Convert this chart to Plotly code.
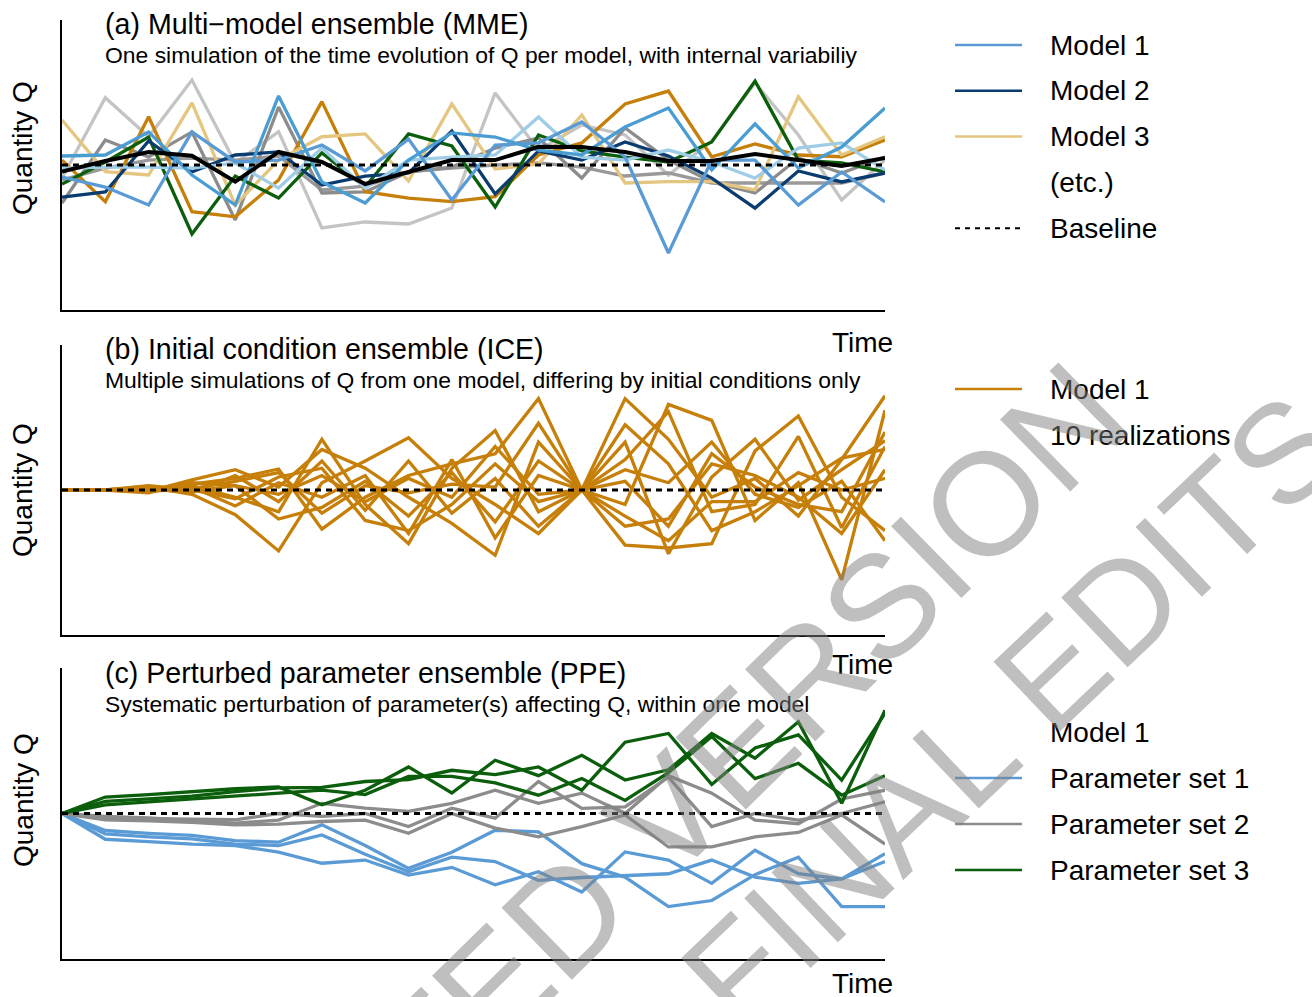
import plotly.graph_objects as go

W, H = 1312, 997
FONT = "Liberation Sans, Arial, Helvetica, sans-serif"

# ---------------- data ----------------
time_steps = list(range(20))

# (a) Multi-model ensemble: one simulation per model
mme_model1 = [-0.83, -1.52, -2.76, 2.28, 0.21, 0.34, 1.38, -0.41, 1.79, -2.41, 1.38, 1.52, 2.97, 0.55, -6.07, 0.34, 0.34, -2.76, -0.48, -2.55]
mme_model2 = [-2.21, -1.86, 1.66, -0.48, 0.69, 0.90, -1.38, -0.76, -0.55, 2.34, -2.00, 0.97, 0.34, 1.59, 0.62, -0.90, -2.97, -0.41, -1.17, -0.55]
mme_model3 = [3.10, -0.46, -0.69, 4.28, -2.76, 0.34, 1.95, 2.14, -1.10, 4.21, -0.28, 0.07, 3.45, -1.24, -1.15, -1.15, -1.72, 4.71, 0.69, 1.95]
mme_model4 = [0.34, -2.53, 3.33, -3.22, -3.57, -1.03, 4.37, -1.84, -2.28, -2.53, -2.19, 0.69, 1.52, 4.21, 5.10, 0.57, 1.45, 0.69, 0.57, 1.72]
mme_model5 = [-1.31, 0.21, 1.93, -4.76, -0.76, -2.28, 0.83, -1.52, 2.14, 1.31, -2.90, 2.07, 0.97, 0.55, 0.21, 1.59, 5.79, 0.34, 0.14, -0.48]
mme_model6 = [-2.62, 1.72, 0.55, 2.28, -3.79, 4.00, -1.93, -1.86, -0.48, -0.14, 1.17, 1.86, -0.90, 2.55, 0.34, -1.17, -1.93, 0.48, -0.55, 0.55]
mme_model7 = [-1.03, -0.21, 0.34, 0.48, 0.34, 0.62, -1.72, -1.45, -0.48, -0.21, 0.00, 0.14, -0.14, -0.76, -0.55, -1.24, -1.24, -1.24, -1.24, -0.55]
mme_model8 = [-0.90, 4.64, 1.95, 5.86, 0.14, 2.30, -4.34, -3.93, -4.07, -2.97, 4.97, 1.03, 2.76, 2.07, -0.69, 1.66, 5.66, 2.07, -2.41, 0.34]
mme_model9 = [0.62, 0.69, 2.28, -0.69, -2.76, 4.76, -1.17, -2.62, 0.34, 2.21, 1.93, 1.03, 0.69, 2.62, 3.93, -0.34, 2.83, -0.21, 1.24, 3.93]
mme_model10 = [-0.21, -0.14, -0.14, -0.21, 0.14, -1.59, 1.17, -1.59, 0.34, 0.55, 0.69, 3.31, 0.55, 0.34, 1.03, 0.21, -0.90, 1.17, 1.52, -0.34]
mme_mean = [-0.46, 0.28, 0.90, 0.64, -1.15, 0.90, 0.21, -1.31, -0.48, 0.34, 0.34, 1.26, 1.24, 0.90, 0.28, 0.28, 0.76, 0.34, -0.07, 0.48]

# (b) Initial condition ensemble: 10 realizations of Model 1
ice_r1 = [0, 0, 0.1, 0.3, -0.5, -1.5, 3.5, -1.0, -3.7, 1.5, 4.1, -1.5, 0, 6.3, 3.5, -0.5, 0.8, -1.8, 2.1, 6.5]
ice_r2 = [0, 0, -0.1, 0.7, 1.4, 0.2, 2.8, 1.5, -0.5, -2.3, -4.5, 3.3, 0, -1.0, 5.9, 4.8, -2.1, 0.5, -6.2, 5.5]
ice_r3 = [0, 0, 0.2, -0.3, -1.7, -4.2, 0.5, 2.0, 3.6, 0.8, -1.0, -3.0, 0, 3.3, -4.4, 0.9, 3.5, -0.7, 1.4, 3.4]
ice_r4 = [0, 0, 0.0, 0.4, 0.8, 1.45, -2.7, -0.5, 1.0, 1.8, 2.5, 6.3, 0, -3.8, -4.0, -3.7, 2.7, 5.1, -0.5, -2.8]
ice_r5 = [0, 0, 0.3, 0.0, -0.6, 0.9, 1.5, -2.1, -2.8, -1.0, 1.8, -0.8, 0, 2.1, 5.4, -1.5, -1.0, 3.7, -2.6, 3.0]
ice_r6 = [0, 0, -0.2, 0.5, 0.3, -2.0, -1.2, 0.6, -1.8, 1.2, -2.2, 2.0, 0, 1.4, 0.5, 3.3, -0.3, -1.2, 0.6, -3.5]
ice_r7 = [0, 0, 0.1, -0.2, 1.0, -0.8, 2.0, -1.4, 2.0, -1.6, 0.8, -2.5, 0, -2.5, -2.0, 1.8, 1.0, -0.5, -3.0, 1.4]
ice_r8 = [0, 0, 0.0, 0.2, -1.1, 0.5, -0.5, 1.0, -3.0, 2.1, -3.3, 1.0, 0, 4.5, 1.8, -2.8, -1.5, 0.3, 2.2, 2.8]
ice_r9 = [0, 0, 0.2, -0.1, 0.3, -0.3, 1.0, -0.8, 0.8, -0.5, 3.0, -0.3, 0, 0.6, -2.5, 2.5, 0.2, -1.0, -1.5, 4.0]
ice_r10 = [0, 0, -0.1, 0.1, 0.6, 1.2, -1.6, 0.3, -0.2, 0.4, 0.2, 4.6, 0, -1.8, -3.5, -0.8, -0.8, 1.2, 0.0, 0.8]

# (c) Perturbed parameter ensemble
ppe_set1_a = [0, -1.17, -1.36, -1.5, -1.86, -1.97, -0.78, -2.2, -3.77, -2.66, -1.15, -1.26, -3.45, -4.37, -6.4, -5.98, -4.2, -3.0, -6.4, -6.4]
ppe_set1_b = [0, -1.4, -1.6, -1.75, -2.1, -2.2, -1.47, -2.8, -4.0, -3.0, -3.3, -4.6, -4.4, -4.25, -4.14, -3.2, -4.37, -4.8, -4.5, -3.3]
ppe_set1_c = [0, -1.77, -1.93, -2.1, -2.2, -2.66, -3.42, -3.2, -4.23, -3.7, -4.9, -4.0, -5.4, -2.64, -3.2, -4.8, -2.53, -4.14, -4.5, -2.76]
ppe_set2_a = [0, -0.2, -0.3, -0.5, -0.66, -0.45, 0.7, 0.37, 0.15, 0.7, 1.6, 0.7, 1.4, 0.0, 2.6, 1.4, -0.45, -0.7, 1.0, 1.6]
ppe_set2_b = [0, -0.3, -0.35, -0.4, -0.43, 0.0, -0.2, 0.0, -0.9, 0.37, -0.32, 2.2, 0.35, 0.45, 2.5, -0.9, 0.0, -0.45, 0.0, 0.8]
ppe_set2_c = [0, -0.43, -0.5, -0.6, -0.78, -0.73, -0.55, -0.45, -1.36, 0.0, -1.0, -1.6, -0.9, -0.1, -2.3, -2.3, -1.6, -1.3, -0.1, -2.1]
ppe_set3_a = [0, 1.13, 1.3, 1.5, 1.7, 1.83, 0.6, 1.6, 3.2, 1.41, 3.66, 2.6, 4.0, 2.3, 3.0, 5.5, 3.8, 6.3, 0.7, 7.1]
ppe_set3_b = [0, 0.83, 1.0, 1.2, 1.5, 1.76, 1.8, 2.2, 2.33, 2.97, 2.67, 3.2, 1.6, 4.9, 5.5, 2.0, 4.5, 5.4, 2.3, 6.9]
ppe_set3_c = [0, 0.6, 0.8, 1.0, 1.2, 1.41, 1.6, 1.3, 2.55, 2.55, 2.1, 1.26, 2.4, 0.9, 2.8, 5.3, 2.4, 3.45, 1.26, 2.6]

baseline = [0] * 20

# ---------------- styles ----------------
C_M1 = "#5B9BD5"
C_M2 = "#0B3C70"
C_M3 = "#E5C680"
C_ORANGE = "#C67F08"
C_GREEN = "#0B5E0B"
C_GRAY = "#8C8C8C"
C_GRAY2 = "#999999"
C_LGRAY = "#C4C4C4"
C_BLUE2 = "#4A9DD2"
C_PALE = "#9FCDE6"

mme_series = [
    (mme_model8, C_LGRAY), (mme_model7, C_GRAY2), (mme_model6, C_GRAY),
    (mme_model4, C_ORANGE), (mme_model3, C_M3), (mme_model5, C_GREEN),
    (mme_model2, C_M2), (mme_model10, C_PALE), (mme_model1, C_M1),
    (mme_model9, C_BLUE2),
]
ice_series = [ice_r1, ice_r2, ice_r3, ice_r4, ice_r5, ice_r6, ice_r7, ice_r8, ice_r9, ice_r10]
ppe_series = [
    (ppe_set1_a, C_M1), (ppe_set1_b, C_M1), (ppe_set1_c, C_M1),
    (ppe_set2_a, C_GRAY), (ppe_set2_b, C_GRAY), (ppe_set2_c, C_GRAY),
    (ppe_set3_a, C_GREEN), (ppe_set3_b, C_GREEN), (ppe_set3_c, C_GREEN),
]

LW = 3.3
fig = go.Figure()

def add_line(y, color, ax, width=LW, dash=None):
    fig.add_trace(go.Scatter(
        x=time_steps, y=y, mode="lines",
        line=dict(color=color, width=width, dash=dash),
        xaxis="x" + ax, yaxis="y" + ax, showlegend=False, hoverinfo="skip"))

# panel a
for y, c in mme_series:
    add_line(y, c, "")
add_line(baseline, "black", "", width=3.2, dash="6px,5px")
add_line(mme_mean, "black", "", width=4)
# panel b
for y in ice_series:
    add_line(y, C_ORANGE, "2")
add_line(baseline, "black", "2", width=3.2, dash="6px,5px")
# panel c
for y, c in ppe_series:
    add_line(y, c, "3")
add_line(baseline, "black", "3", width=3.2, dash="6px,5px")

# ---------------- layout ----------------
def px(x):
    return x / W

def py(y):
    return 1 - y / H

x_dom = [px(62), px(885)]
axis_common = dict(showline=True, linecolor="black", linewidth=2.2, showgrid=False,
                   zeroline=False, showticklabels=False, ticks="")
panels = [(20, 310), (345, 635), (668, 959)]

layout = dict(
    width=W, height=H, margin=dict(l=0, r=0, t=0, b=0),
    paper_bgcolor="white", plot_bgcolor="white", showlegend=False,
    font=dict(family=FONT, color="black"),
)
names = ["", "2", "3"]
for n, (top, bot) in zip(names, panels):
    layout["xaxis" + n] = dict(domain=x_dom, range=[0, 19], anchor="y" + n, **axis_common)
    layout["yaxis" + n] = dict(domain=[py(bot), py(top)], range=[-10, 10], anchor="x" + n, **axis_common)

fig.update_layout(**layout)

ann = []
def text(x, y, s, size=28, xanchor="left", angle=0, color="black"):
    ann.append(dict(x=px(x), y=py(y), xref="paper", yref="paper", text=s, showarrow=False,
                    xanchor=xanchor, yanchor="middle", textangle=angle,
                    font=dict(family=FONT, size=size, color=color)))

titles = [
    ("(a) Multi\u2212model ensemble (MME)", "One simulation of the time evolution of Q per model, with internal variabiliy", 24, 55),
    ("(b) Initial condition ensemble (ICE)", "Multiple simulations of Q from one model, differing by initial conditions only", 349, 380),
    ("(c) Perturbed parameter ensemble (PPE)", "Systematic perturbation of parameter(s) affecting Q, within one model", 673, 704),
]
for t1, t2, y1, y2 in titles:
    text(103, y1, t1, size=28.6)
    text(103, y2, t2, size=22.9)

for yc in [343, 664, 983]:
    text(895, yc, "Time", size=28, xanchor="right")
for yc in [148, 490, 800]:
    text(23, yc, "Quantity Q", size=28, xanchor="center", angle=-90)

# legends
shapes = []
def leg_line(y, color, dash=None, width=2.5):
    shapes.append(dict(type="line", xref="paper", yref="paper", x0=px(955), x1=px(1022),
                       y0=py(y), y1=py(y), line=dict(color=color, width=width, dash=dash)))

legend_a = [("Model 1", C_M1), ("Model 2", C_M2), ("Model 3", C_M3), ("(etc.)", None), ("Baseline", "dash")]
for i, (lab, col) in enumerate(legend_a):
    y = 45 + i * 45.8
    if col == "dash":
        leg_line(y, "black", dash="5px,5px", width=2)
    elif col:
        leg_line(y, col)
    text(1048, y, lab)

leg_line(389, C_ORANGE)
text(1048, 389, "Model 1")
text(1048, 435, "10 realizations")

text(1048, 732, "Model 1")
for lab, col, y in [("Parameter set 1", C_M1, 778), ("Parameter set 2", C_GRAY, 824), ("Parameter set 3", C_GREEN, 870)]:
    leg_line(y, col)
    text(1048, y, lab)

# watermark
text(568, 912, "ACCEPTED VERSION", size=146, xanchor="center", angle=-44.4, color="rgba(128,128,128,0.5)")
text(684, 1022, "SUBJECT TO FINAL EDITS", size=140, xanchor="center", angle=-43.5, color="rgba(128,128,128,0.5)")

fig.update_layout(annotations=ann, shapes=shapes)
fig.write_html("out.html")
